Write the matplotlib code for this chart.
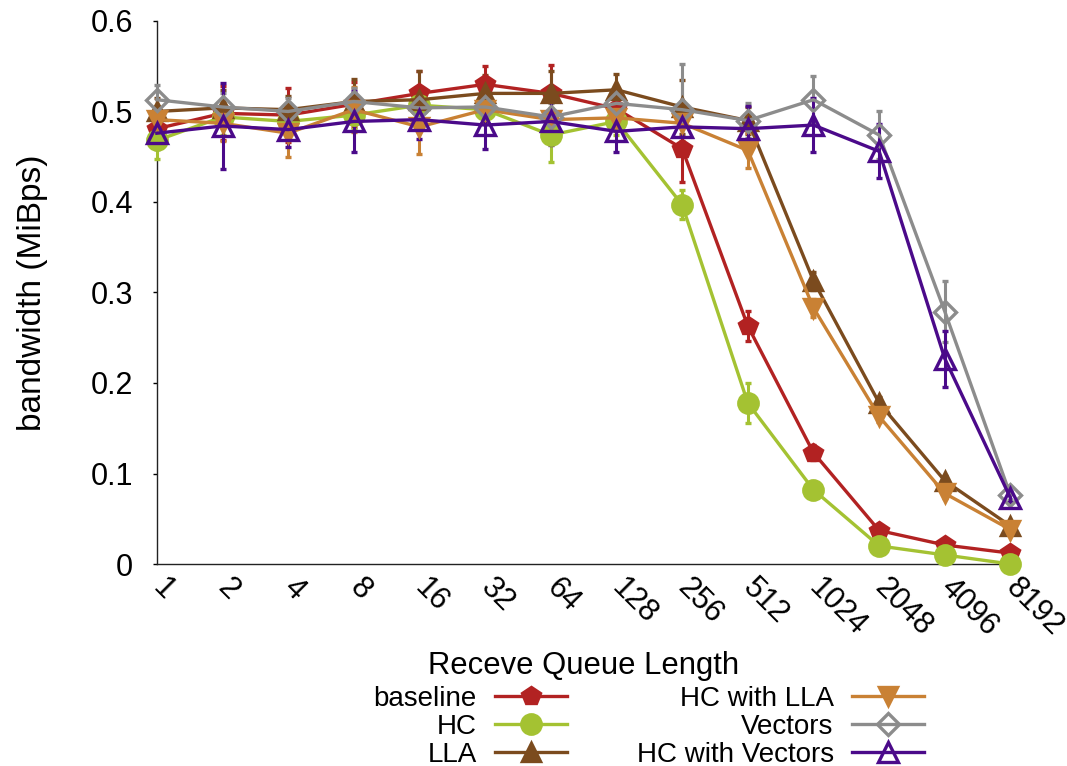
import matplotlib
matplotlib.use('Agg')
import numpy as np
import matplotlib.pyplot as plt

plt.rcParams['font.family'] = ['Liberation Sans', 'DejaVu Sans']

queue_len = ['1', '2', '4', '8', '16', '32', '64', '128', '256', '512',
             '1024', '2048', '4096', '8192']

baseline = [0.481, 0.498, 0.496, 0.508, 0.520, 0.530, 0.520, 0.503, 0.459,
            0.263, 0.123, 0.037, 0.021, 0.012]
baseline_err = [0.020, 0.030, 0.030, 0.025, 0.025, 0.020, 0.031, 0.020,
                0.037, 0.017, 0.008, 0.005, 0.004, 0.004]
hc = [0.468, 0.494, 0.489, 0.496, 0.507, 0.502, 0.474, 0.489, 0.397, 0.178,
      0.082, 0.020, 0.010, 0.000]
hc_err = [0.021, 0.020, 0.015, 0.015, 0.015, 0.010, 0.030, 0.015, 0.016,
          0.022, 0.005, 0.004, 0.003, 0.002]
lla = [0.500, 0.504, 0.502, 0.511, 0.513, 0.520, 0.520, 0.524, 0.505, 0.490,
       0.313, 0.178, 0.092, 0.042]
lla_err = [0.015, 0.020, 0.015, 0.025, 0.032, 0.020, 0.025, 0.017, 0.030,
           0.015, 0.010, 0.006, 0.005, 0.004]
hc_lla = [0.491, 0.487, 0.476, 0.502, 0.483, 0.502, 0.491, 0.493, 0.487,
          0.457, 0.283, 0.163, 0.078, 0.038]
hc_lla_err = [0.015, 0.020, 0.026, 0.025, 0.030, 0.015, 0.020, 0.015, 0.020,
              0.019, 0.010, 0.006, 0.005, 0.004]
vectors = [0.513, 0.505, 0.500, 0.511, 0.504, 0.505, 0.494, 0.509, 0.502,
           0.490, 0.513, 0.474, 0.279, 0.076]
vectors_err = [0.016, 0.015, 0.015, 0.015, 0.012, 0.010, 0.015, 0.015, 0.050,
               0.019, 0.026, 0.026, 0.034, 0.005]
hc_vectors = [0.476, 0.484, 0.480, 0.489, 0.491, 0.485, 0.489, 0.478, 0.483,
              0.481, 0.485, 0.456, 0.227, 0.073]
hc_vectors_err = [0.017, 0.047, 0.019, 0.034, 0.021, 0.026, 0.026, 0.023,
                  0.023, 0.025, 0.030, 0.030, 0.031, 0.004]

series = [
    ('baseline', baseline, baseline_err, '#b22222', 'p', 13, True),
    ('HC', hc, hc_err, '#a4c232', 'o', 14, True),
    ('LLA', lla, lla_err, '#7b4b1e', '^', 13, True),
    ('HC with LLA', hc_lla, hc_lla_err, '#c98134', 'v', 13, True),
    ('Vectors', vectors, vectors_err, '#8c8c8c', 'D', 11, False),
    ('HC with Vectors', hc_vectors, hc_vectors_err, '#4b0a8a', '^', 14, False),
]

fig = plt.figure(figsize=(10.67, 7.66), dpi=100)
ax = fig.add_axes([0.147, 0.2637, 0.8, 0.7089])
x = np.arange(len(queue_len))

for name, y, err, col, mk, ms, filled in series:
    ax.errorbar(x, y, yerr=err, color=col, lw=2.4, elinewidth=2.2,
                capsize=2.5, capthick=2.2, marker=mk, ms=ms,
                mfc=col if filled else 'none', mec=col, mew=2.4,
                label=name, clip_on=False, zorder=3)

ax.set_xlim(0, len(queue_len) - 1)
ax.set_ylim(0, 0.6)
ax.set_yticks(np.arange(0, 0.61, 0.1))
ax.set_yticklabels(['0', '0.1', '0.2', '0.3', '0.4', '0.5', '0.6'])
ax.set_xticks(x)
# slanted labels start right at the tick, gnuplot style
ax.set_xticklabels(queue_len, rotation=-45, ha='left', va='center',
                   rotation_mode='anchor')
ax.spines['top'].set_visible(False)
ax.spines['right'].set_visible(False)
for s in ['left', 'bottom']:
    ax.spines[s].set_linewidth(1.0)
    ax.spines[s].set_color('#222222')
ax.tick_params(axis='y', direction='out', length=3, width=1, labelsize=22,
               pad=14)
ax.tick_params(axis='x', length=0, labelsize=22, pad=14)

ax.set_ylabel('bandwidth (MiBps)', fontsize=24)
ax.yaxis.set_label_coords(-0.128, 0.5)
ax.set_xlabel('Receve Queue Length', fontsize=22.3)
ax.xaxis.set_label_coords(0.5, -0.161)

h, l = ax.get_legend_handles_labels()
h = [hh[0] for hh in h]
ax.legend(h, l, ncol=2, markerfirst=False, frameon=False, fontsize=20,
          handlelength=2.6, handletextpad=0.65, columnspacing=2.5,
          labelspacing=0.07, borderpad=0, loc='center',
          bbox_to_anchor=(0.608, 0.051), bbox_transform=fig.transFigure)

fig.savefig('out.png', dpi=100)
